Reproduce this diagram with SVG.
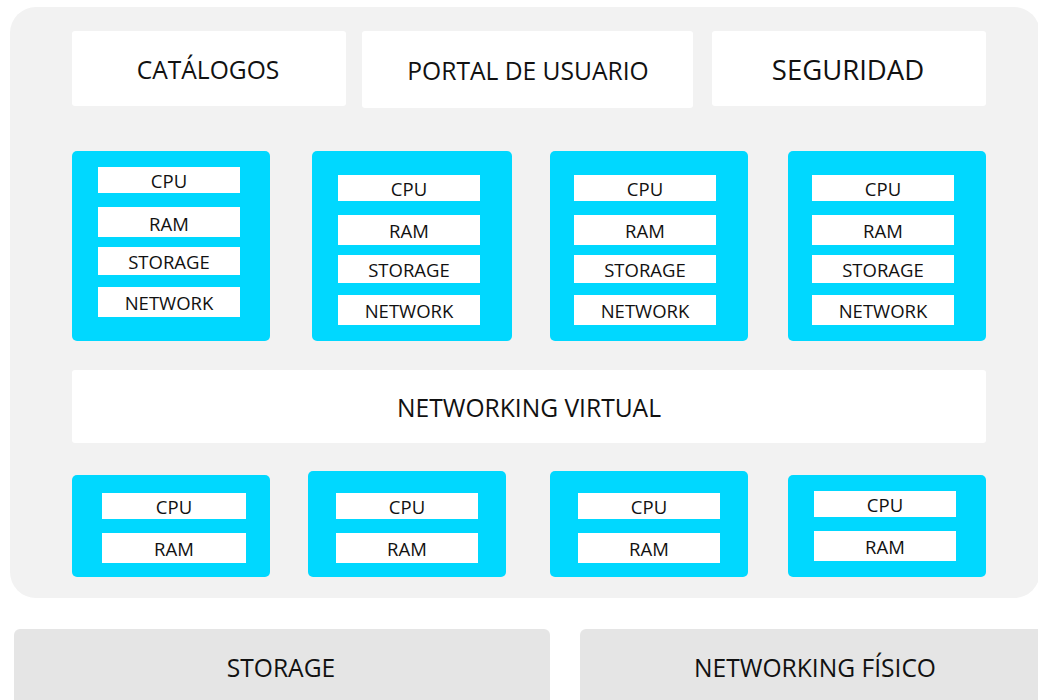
<svg xmlns="http://www.w3.org/2000/svg" width="1038" height="700" viewBox="0 0 1038 700">
<style>
.bg{fill:#f2f2f2}
.wb{fill:#ffffff}
.cy{fill:#00d8ff}
.ib{fill:#ffffff}
.gb{fill:#e5e5e5}
.lg{font-family:"Open Sans","DejaVu Sans",sans-serif;font-size:24.6px;fill:#111;text-anchor:middle}
.sm{font-family:"Open Sans","DejaVu Sans",sans-serif;font-size:18.5px;fill:#111;text-anchor:middle}
</style>
<rect class="bg" x="10" y="7" width="1030" height="591" rx="26"/>
<g id="catalogos"><rect class="wb" x="72" y="31" width="274" height="75" rx="3"/><text class="lg" x="208" y="79">CATÁLOGOS</text></g>
<g id="portal"><rect class="wb" x="362" y="31" width="331" height="77" rx="3"/><text class="lg" x="528" y="80">PORTAL DE USUARIO</text></g>
<g id="seguridad"><rect class="wb" x="712" y="31" width="274" height="75" rx="3"/><text class="lg" x="848" y="80" style="font-size:27.5px">SEGURIDAD</text></g>

<g id="vm1">
<rect class="cy" x="72" y="151" width="198" height="190" rx="5"/>
<rect class="ib" x="98" y="167" width="142" height="26"/><text class="sm" x="169" y="188">CPU</text>
<rect class="ib" x="98" y="207" width="142" height="30"/><text class="sm" x="169" y="231">RAM</text>
<rect class="ib" x="98" y="247" width="142" height="28"/><text class="sm" x="169" y="269">STORAGE</text>
<rect class="ib" x="98" y="287" width="142" height="30"/><text class="sm" x="169" y="310">NETWORK</text>
</g>
<g id="vm2">
<rect class="cy" x="312" y="151" width="200" height="190" rx="5"/>
<rect class="ib" x="338" y="175" width="142" height="26"/><text class="sm" x="409" y="196">CPU</text>
<rect class="ib" x="338" y="215" width="142" height="30"/><text class="sm" x="409" y="238">RAM</text>
<rect class="ib" x="338" y="255" width="142" height="28"/><text class="sm" x="409" y="277">STORAGE</text>
<rect class="ib" x="338" y="295" width="142" height="30"/><text class="sm" x="409" y="318">NETWORK</text>
</g>
<g id="vm3">
<rect class="cy" x="550" y="151" width="198" height="190" rx="5"/>
<rect class="ib" x="574" y="175" width="142" height="26"/><text class="sm" x="645" y="196">CPU</text>
<rect class="ib" x="574" y="215" width="142" height="30"/><text class="sm" x="645" y="238">RAM</text>
<rect class="ib" x="574" y="255" width="142" height="28"/><text class="sm" x="645" y="277">STORAGE</text>
<rect class="ib" x="574" y="295" width="142" height="30"/><text class="sm" x="645" y="318">NETWORK</text>
</g>
<g id="vm4">
<rect class="cy" x="788" y="151" width="198" height="190" rx="5"/>
<rect class="ib" x="812" y="175" width="142" height="26"/><text class="sm" x="883" y="196">CPU</text>
<rect class="ib" x="812" y="215" width="142" height="30"/><text class="sm" x="883" y="238">RAM</text>
<rect class="ib" x="812" y="255" width="142" height="28"/><text class="sm" x="883" y="277">STORAGE</text>
<rect class="ib" x="812" y="295" width="142" height="30"/><text class="sm" x="883" y="318">NETWORK</text>
</g>

<g id="networking-virtual"><rect class="wb" x="72" y="370" width="914" height="73" rx="3"/><text class="lg" x="529" y="417">NETWORKING VIRTUAL</text></g>

<g id="host1">
<rect class="cy" x="72" y="475" width="198" height="102" rx="5"/>
<rect class="ib" x="102" y="493" width="144" height="26"/><text class="sm" x="174" y="514">CPU</text>
<rect class="ib" x="102" y="533" width="144" height="30"/><text class="sm" x="174" y="556">RAM</text>
</g>
<g id="host2">
<rect class="cy" x="308" y="471" width="198" height="106" rx="5"/>
<rect class="ib" x="336" y="493" width="142" height="26"/><text class="sm" x="407" y="514">CPU</text>
<rect class="ib" x="336" y="533" width="142" height="30"/><text class="sm" x="407" y="556">RAM</text>
</g>
<g id="host3">
<rect class="cy" x="550" y="471" width="198" height="106" rx="5"/>
<rect class="ib" x="578" y="493" width="142" height="26"/><text class="sm" x="649" y="514">CPU</text>
<rect class="ib" x="578" y="533" width="142" height="30"/><text class="sm" x="649" y="556">RAM</text>
</g>
<g id="host4">
<rect class="cy" x="788" y="475" width="198" height="102" rx="5"/>
<rect class="ib" x="814" y="491" width="142" height="26"/><text class="sm" x="885" y="512">CPU</text>
<rect class="ib" x="814" y="531" width="142" height="30"/><text class="sm" x="885" y="554">RAM</text>
</g>

<g id="storage"><rect class="gb" x="14" y="629" width="536" height="90" rx="6"/><text class="lg" x="281" y="677">STORAGE</text></g>
<g id="networking-fisico"><rect class="gb" x="580" y="629" width="480" height="90" rx="6"/><text class="lg" x="815" y="677">NETWORKING FÍSICO</text></g>
<g id="connectors"></g>
</svg>
